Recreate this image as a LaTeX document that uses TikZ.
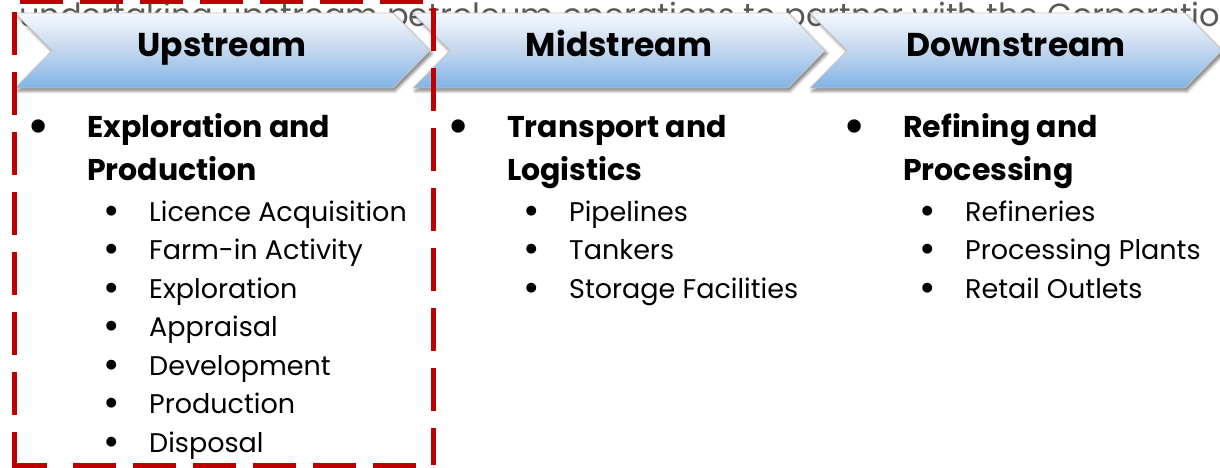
\documentclass[tikz,border=0pt]{standalone}
\usepackage{fontspec}
\setmainfont{Poppins}
\usetikzlibrary{shadows.blur}
\definecolor{redline}{HTML}{C00000}
\definecolor{chevtop}{HTML}{F6F9FD}
\definecolor{chevmid}{HTML}{C2D6EE}
\definecolor{chevbot}{HTML}{80B3E6}
\definecolor{topgray}{HTML}{595959}
\tikzset{
  chev/.style={draw=gray!45, line width=0.8pt, top color=chevtop, bottom color=chevbot, middle color=chevmid,
    blur shadow={shadow xshift=2pt, shadow yshift=-3pt, shadow blur radius=3pt, shadow opacity=50}},
  chevlabel/.style={font=\fontsize{33}{40}\selectfont\bfseries, anchor=base, inner sep=0pt},
  head/.style={font=\fontsize{30}{36}\selectfont\bfseries, anchor=base west, inner sep=0pt},
  item/.style={font=\fontsize{27}{32}\selectfont, anchor=base west, inner sep=0pt},
  bigbul/.style={font=\fontsize{54}{60}\selectfont, anchor=base, inner sep=0pt},
  smallbul/.style={font=\fontsize{40}{44}\selectfont, anchor=base, inner sep=0pt},
  redbox/.style={draw=redline, line width=5pt, dash pattern=on 43pt off 17pt},
  redsolid/.style={draw=redline, line width=5pt}
}
\begin{document}
\begin{tikzpicture}[x=1pt, y=-1pt]
\useasboundingbox (0,0) rectangle (1220,468);
\clip (0,0) rectangle (1220,468);
% background text partly hidden
\node[anchor=base west, inner sep=0pt, text=topgray, font=\fontsize{32}{36}\selectfont] (toptext) at (19,27)
  {undertaking upstream petroleum operations to partner with the Corporation};
% chevrons
\path[chev] (15,13) -- (393,13) -- (430,50.5) -- (393,88) -- (15,88) -- (52,50.5) -- cycle;
\path[chev] (413,13) -- (788,13) -- (825,50.5) -- (788,88) -- (413,88) -- (450,50.5) -- cycle;
\path[chev] (810,13) -- (1185,13) -- (1222,50.5) -- (1185,88) -- (810,88) -- (847,50.5) -- cycle;
\node[chevlabel] (up) at (222,57) {Upstream};
\node[chevlabel] (mid) at (619,57) {Midstream};
\node[chevlabel] (down) at (1016,57) {Downstream};
% upstream column
\node[bigbul] (ub) at (39,144) {•};
\node[head] (uh1) at (87,137) {Exploration and};
\node[head] (uh2) at (87,180) {Production};
\foreach \t [count=\i] in {Licence Acquisition, Farm-in Activity, Exploration, Appraisal, Development, Production, Disposal}{
  \node[smallbul] (usb\i) at (112,{224+38.5*(\i-1)}) {•};
  \node[item] (ui\i) at (149,{221+38.5*(\i-1)}) {\t};
}
% midstream column
\node[bigbul] (mb) at (459,144) {•};
\node[head] (mh1) at (507,137) {Transport and};
\node[head] (mh2) at (507,180) {Logistics};
\foreach \t [count=\i] in {Pipelines, Tankers, Storage Facilities}{
  \node[smallbul] (msb\i) at (532,{224+38.5*(\i-1)}) {•};
  \node[item] (mi\i) at (569,{221+38.5*(\i-1)}) {\t};
}
% downstream column
\node[bigbul] (db) at (855,144) {•};
\node[head] (dh1) at (903,137) {Refining and};
\node[head] (dh2) at (903,180) {Processing};
\foreach \t [count=\i] in {Refineries, Processing Plants, Retail Outlets}{
  \node[smallbul] (dsb\i) at (928,{224+38.5*(\i-1)}) {•};
  \node[item] (di\i) at (965,{221+38.5*(\i-1)}) {\t};
}
% red dashed frame
\draw[redbox, dash phase=54pt] (14,2) -- (433,2);
\draw[redbox, dash phase=50pt] (14,2) -- (14,465);
\draw[redbox, dash phase=54pt] (433,2) -- (433,465);
\draw[redsolid] (11.5,465) -- (47,465);
\draw[redbox] (73,465) -- (433,465);
\end{tikzpicture}
\end{document}
